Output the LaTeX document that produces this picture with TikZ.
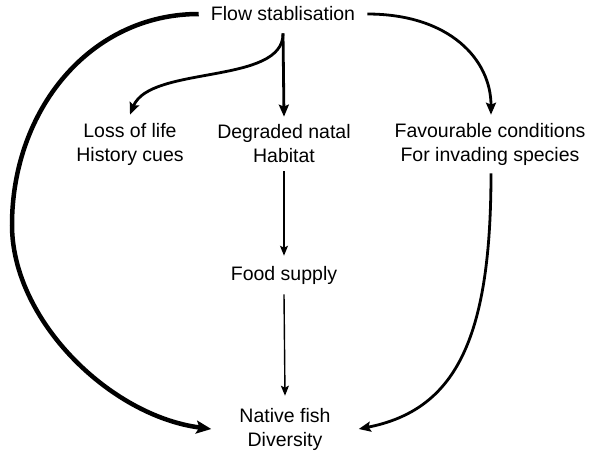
\documentclass[tikz,border=0pt]{standalone}
\usepackage{fontspec}
\setmainfont{Liberation Sans}
\usetikzlibrary{arrows.meta}
\begin{document}
\begin{tikzpicture}[x=1pt,y=1pt,
  lbl/.style={font=\fontsize{19.5}{24}\selectfont, align=center, inner xsep=0pt, inner ysep=8pt},
  heavy/.style={line width=4.5pt, -{Stealth[length=15pt,width=13pt,inset=3pt]}},
  medium/.style={line width=2.8pt, -{Stealth[length=12pt,width=10pt,inset=2pt]}},
  light/.style={line width=1.4pt, -{Stealth[length=10pt,width=8pt,inset=2pt]}}]
\useasboundingbox (0,0) rectangle (589,-451);

\node[lbl, inner xsep=12pt, inner ysep=12pt] (flow) at (283,-14) {Flow stablisation};
\node[lbl] (loss) at (130,-144) {Loss of life\\History cues};
\node[lbl] (habitat) at (284,-144) {Degraded natal\\Habitat};
\node[lbl] (fav) at (490,-144) {Favourable conditions\\For invading species};
\node[lbl, inner ysep=10pt] (food) at (284,-275) {Food supply};
\node[lbl, inner xsep=28pt, inner ysep=12pt] (native) at (285,-429) {Native fish\\Diversity};
\coordinate (lbend) at (12,-225);

% direct effect of stabilised flow on native fish
\draw[heavy] (flow.west) .. controls (90,-14) and (12,-110) .. (lbend)
  .. controls (12,-320) and (110,-416) .. (native.west);
% spread of invading species
\draw[medium] (flow.east) .. controls (450,-14) and (491,-60) .. (fav.north -| 491,0);
\draw[medium] (fav.south -| 491,0) .. controls (491,-340) and (455,-410) .. (native.east);
% loss of cues and habitat degradation
\draw[medium] (flow.south) .. controls (284,-85) and (150,-65) .. (loss.north);
\draw[medium] (flow.south) -- (habitat.north);
% habitat -> food -> fish
\draw[light] (habitat.south) -- (food.north);
\draw[light] (food.south) -- (native.north);
\end{tikzpicture}
\end{document}
